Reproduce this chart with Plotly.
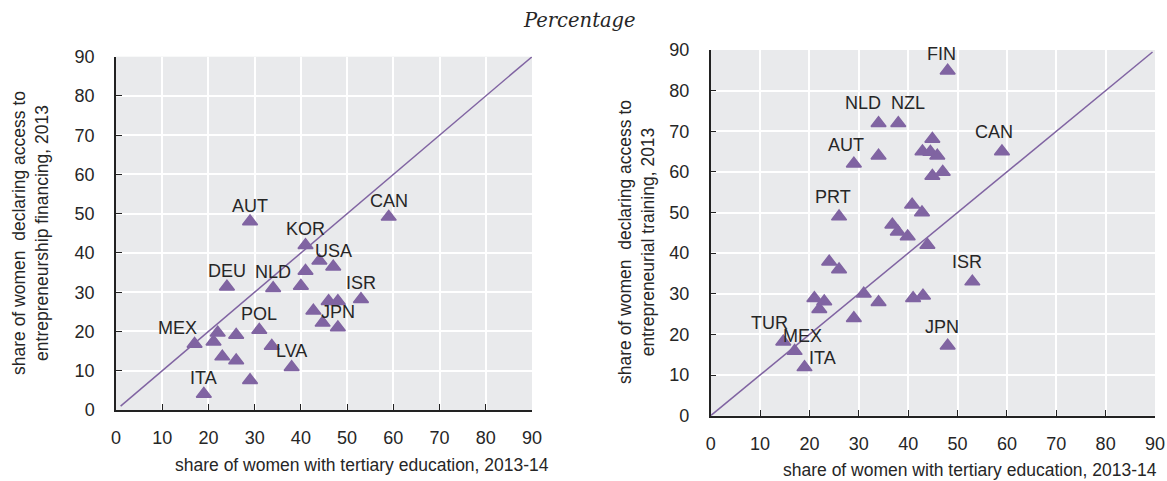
import plotly.graph_objects as go

# ---------------- data ----------------
# Left panel: tertiary education (x) vs access to entrepreneurship financing (y)
fin_labels = ["AUT", "CAN", "KOR", "", "USA", "", "NLD", "DEU", "", "ISR", "", "", "",
              "", "JPN", "POL", "", "", "", "MEX", "", "", "", "LVA", "", "ITA"]
fin_x = [29, 59, 41, 44, 47, 41, 34, 24, 40, 53, 46, 48, 42.7,
         44.7, 48, 31, 22, 21.1, 26, 17, 33.7, 23, 26, 38, 29, 19]
fin_y = [48, 49.2, 42, 38, 36.5, 35.4, 31, 31.4, 31.6, 28.2, 27.7, 27.7, 25.3,
         22.2, 21.0, 20.4, 19.7, 17.4, 19.1, 16.8, 16.3, 13.6, 12.6, 10.9, 7.6, 4.1]

# Right panel: tertiary education (x) vs access to entrepreneurial training (y)
trn_labels = ["FIN", "NLD", "NZL", "", "", "", "", "CAN", "", "AUT", "", "",
              "PRT", "", "", "", "", "", "", "", "", "ISR", "", "", "", "", "",
              "", "", "", "TUR", "MEX", "ITA", "JPN"]
trn_x = [48, 34, 38, 44.9, 42.9, 44.5, 45.9, 59, 34, 29, 44.9, 47,
         26, 40.8, 42.8, 36.8, 37.9, 39.9, 43.9, 24, 26, 53, 31, 21, 23, 22, 34,
         41, 43, 29, 14.7, 17, 19, 48]
trn_y = [84.9, 72, 72, 68.1, 65.0, 64.9, 64.0, 65, 64, 62, 59, 60,
         49, 51.9, 50, 47, 45.3, 44.1, 42, 37.9, 36, 33, 30, 28.9, 28.1, 26.2, 27.9,
         28.9, 29.5, 24, 18.2, 15.9, 11.9, 17.2]

# 45-degree reference lines
diag_left = [1, 90]
diag_right = [0, 89.5]

tick_vals = [0, 10, 20, 30, 40, 50, 60, 70, 80, 90]
tick_text = ["0", "10", "20", "30", "40", "50", "60", "70", "80", "90"]

title_text = "Percentage"
x_title = "share of women with tertiary education, 2013-14"
y_title_left = "share of women  declaring access to<br>entrepreneurship financing, 2013"
y_title_right = "share of women  declaring access to<br>entrepreneurial training, 2013"

# label offsets (pixels) for labelled countries
left_offsets = {"MEX": (-17, 16)}
right_offsets = {"FIN": (-6, 17), "NLD": (-16, 20), "NZL": (10, 20), "CAN": (-8, 20),
                 "AUT": (-8, 19), "PRT": (-6, 20), "ISR": (-5, 20), "JPN": (-6, 19),
                 "TUR": (-14, 19), "MEX": (8, 15), "ITA": (18, 9)}

# ---------------- style ----------------
PURPLE = "#8064A2"
BG = "#E9EAEC"
TXT = "#262626"
SANS = "Liberation Sans, Arial, sans-serif"

W, H = 1167, 481

fig = go.Figure()

for xs, ys, xa, ya in [(fin_x, fin_y, "x", "y"), (trn_x, trn_y, "x2", "y2")]:
    fig.add_trace(go.Scatter(
        x=xs, y=ys, mode="markers", xaxis=xa, yaxis=ya, showlegend=False,
        marker=dict(symbol="triangle-up", size=13, color=PURPLE,
                    line=dict(color=PURPLE, width=1.5)),
        cliponaxis=False,
    ))

fig.add_trace(go.Scatter(x=diag_left, y=diag_left, mode="lines", xaxis="x", yaxis="y",
                         showlegend=False, line=dict(color=PURPLE, width=1.5)))
fig.add_trace(go.Scatter(x=diag_right, y=diag_right, mode="lines", xaxis="x2", yaxis="y2",
                         showlegend=False, line=dict(color=PURPLE, width=1.5)))

annotations = []
for labels, xs, ys, xr, yr, offs in [
    (fin_labels, fin_x, fin_y, "x", "y", left_offsets),
    (trn_labels, trn_x, trn_y, "x2", "y2", right_offsets),
]:
    for lab, xv, yv in zip(labels, xs, ys):
        if not lab:
            continue
        dx, dy = offs.get(lab, (0, 16))
        annotations.append(dict(
            x=xv, y=yv, xref=xr, yref=yr, text=lab, showarrow=False,
            xanchor="center", yanchor="middle",
            xshift=dx, yshift=dy, font=dict(family=SANS, size=18, color=TXT),
        ))

def px(xp):
    return xp / W

def py(yp):
    return 1 - yp / H

def paper_text(text, x, y, size, family=SANS, angle=0):
    return dict(text=text, x=px(x), y=py(y), xref="paper", yref="paper", showarrow=False,
                xanchor="center", yanchor="middle", textangle=angle,
                font=dict(family=family, size=size, color=TXT))

annotations += [
    paper_text("<i>" + title_text + "</i>", 579, 21, 19.5, family="DejaVu Serif"),
    paper_text(x_title, 362, 465, 17.5),
    paper_text(x_title, 970, 470, 17.5),
    paper_text(y_title_left, 30, 233, 17.5, angle=-90),
    paper_text(y_title_right, 636, 242, 17.5, angle=-90),
]

axis_common = dict(
    range=[0, 90], tickvals=tick_vals, ticktext=tick_text, showgrid=True,
    gridcolor="white", gridwidth=2, zeroline=False, showline=True,
    linecolor="#222222", linewidth=1.5, ticks="inside", ticklen=6,
    tickcolor="#222222", tickwidth=1.2, automargin=False,
    tickfont=dict(family=SANS, size=18, color=TXT), fixedrange=True,
)

fig.update_layout(
    width=W, height=H, margin=dict(l=0, r=0, t=0, b=0, autoexpand=False),
    paper_bgcolor="white", plot_bgcolor=BG,
    xaxis=dict(domain=[px(116), px(532)], anchor="y", ticklabelstandoff=11, **axis_common),
    yaxis=dict(domain=[py(410), py(56.7)], anchor="x", ticklabelstandoff=16, **axis_common),
    xaxis2=dict(domain=[px(710.7), px(1155)], anchor="y2", ticklabelstandoff=11, **axis_common),
    yaxis2=dict(domain=[py(415.7), py(50)], anchor="x2", ticklabelstandoff=16, **axis_common),
    annotations=annotations,
)

fig.write_html("out.html", config={"displayModeBar": False},
               post_script="document.body.style.margin='0';document.body.style.overflow='hidden';")
